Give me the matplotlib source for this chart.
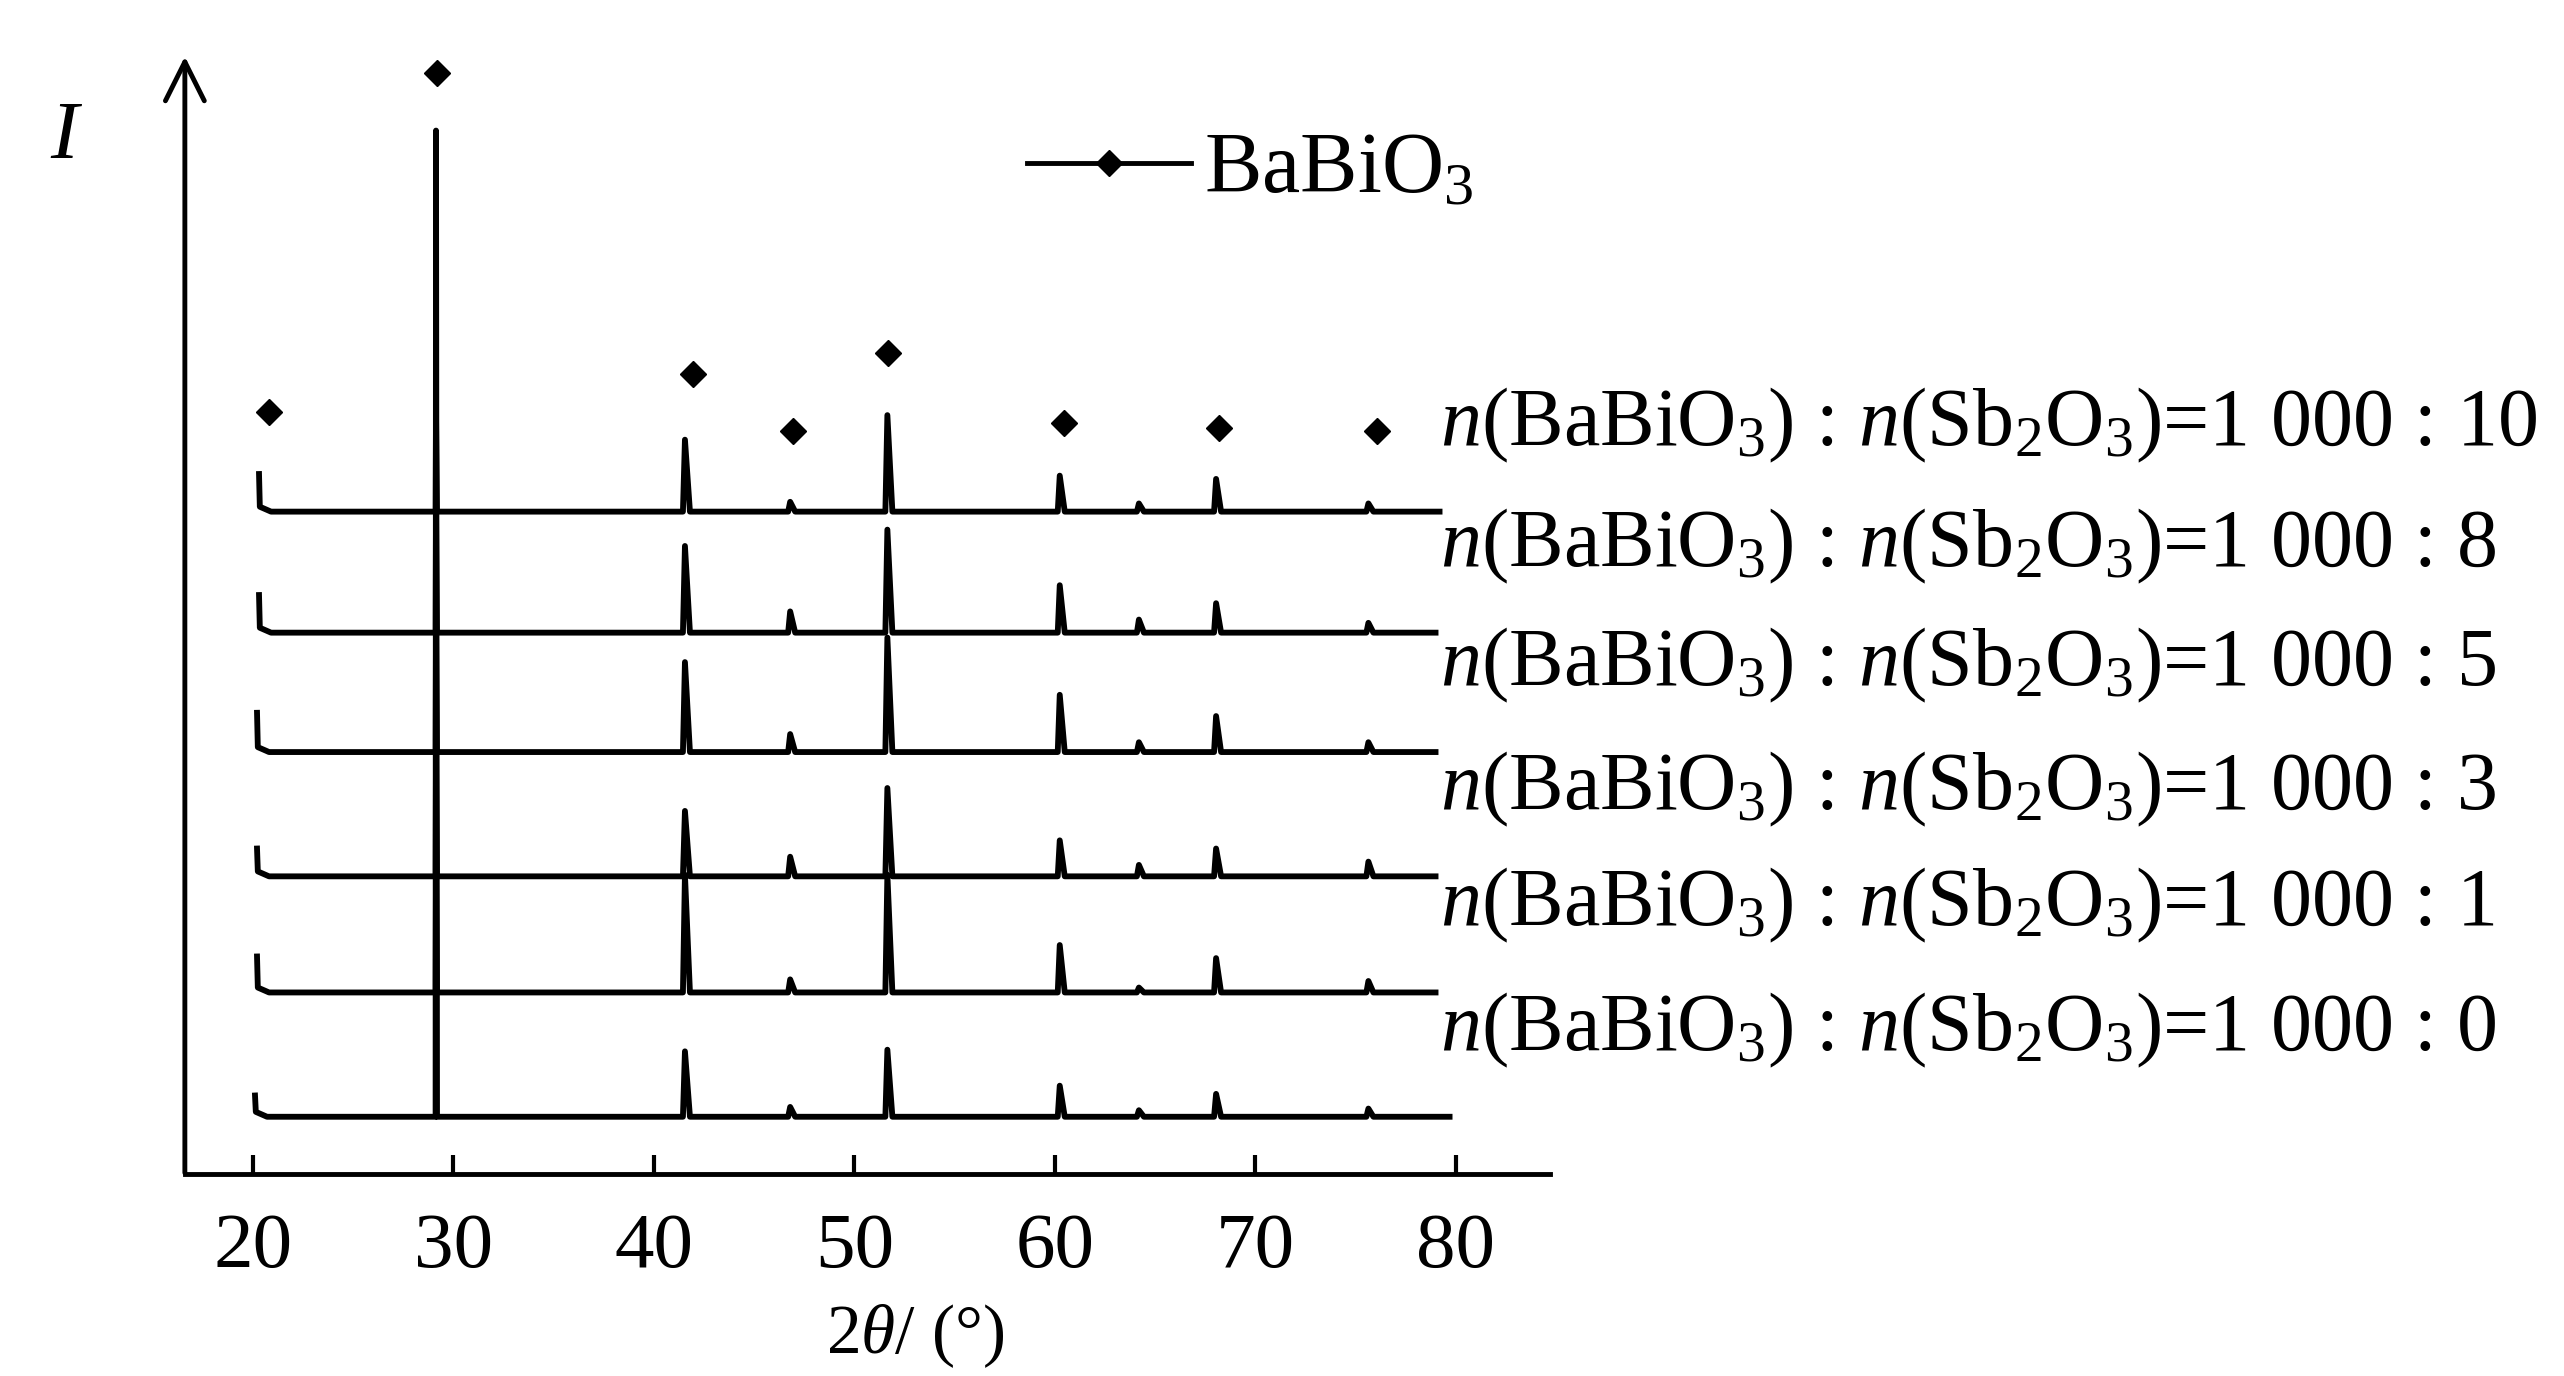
import matplotlib
matplotlib.use("Agg")
import matplotlib.pyplot as plt
from matplotlib.lines import Line2D

plt.rcParams['font.family'] = ['Liberation Serif', 'DejaVu Serif']
plt.rcParams['mathtext.fontset'] = 'custom'
plt.rcParams['mathtext.rm'] = 'Liberation Serif'
plt.rcParams['mathtext.it'] = 'Liberation Serif:italic'

# samples from bottom to top, n(Sb2O3) per 1 000 BaBiO3
sb_ratio = ['0', '1', '3', '5', '8', '10']
offsets = [0, 76, 147, 223, 296, 370]          # vertical shift of each pattern

# peak list (2theta, deg) and read heights per sample
peak_pos = [29.13, 41.55, 46.8, 51.65, 60.25, 64.2, 68.05, 75.65]
heights = [
    [603, 40, 6, 41, 19, 4, 14, 5],    # 1000:0
    [75, 72, 8, 72, 29, 3, 21, 7],     # 1000:1
    [76, 40, 12, 54, 22, 7, 17, 9],    # 1000:3
    [75, 55, 11, 70, 35, 6, 22, 6],    # 1000:5
    [75, 53, 13, 63, 29, 8, 18, 6],    # 1000:8
    [60, 44, 6, 59, 22, 5, 20, 5],     # 1000:10
]
start_h = [13, 22, 17, 24, 23, 23]
scan_start = [20.1, 20.2, 20.2, 20.2, 20.3, 20.3]
scan_end = [79.7, 79.0, 79.0, 79.0, 79.0, 79.2]

# BaBiO3 reflections marked above the top pattern
mark_x = [20.8, 29.17, 41.95, 46.95, 51.68, 60.45, 68.2, 76.1]
mark_y = [431, 638, 454, 419, 467, 424, 421, 419]

xticks = [20, 30, 40, 50, 60, 70, 80]

fig = plt.figure(figsize=(25.64, 13.76), dpi=100)
ax = fig.add_axes([0.0721, 0.1468, 0.5325, 0.8118])
ax.set_xlim(16.6, 84.72)
ax.set_ylim(-35, 648)

lw = 4.2
for i, r in enumerate(sb_ratio):
    off = offsets[i]
    xs = [scan_start[i], scan_start[i] + 0.04, scan_start[i] + 0.6]
    ys = [start_h[i], 3, 0]
    for j, (p, h) in enumerate(zip(peak_pos, heights[i])):
        left, right = (0.02, 0.05) if j == 0 else (0.1, 0.25)
        xs += [p - left, p, p + right]
        ys += [0, h, 0]
    xs.append(scan_end[i])
    ys.append(0)
    ax.plot(xs, [y + off for y in ys], color='k', lw=lw,
            solid_joinstyle='round', clip_on=False)
    ax.text(79.2, off + 53,
            r'$n$(BaBiO$_3$) : $n$(Sb$_2$O$_3$)=1 000 : ' + r,
            fontsize=59, va='center', ha='left', clip_on=False)

ax.plot(mark_x, mark_y, linestyle='none', marker='D', color='k', ms=13,
        clip_on=False)

handle = Line2D([], [], color='k', lw=3.5, marker='D', ms=13)
ax.legend([handle], ['BaBiO$_3$'], loc='center left',
          bbox_to_anchor=(0.617, 0.897), frameon=False, fontsize=62,
          handlelength=1.9, handletextpad=0.15, borderpad=0,
          borderaxespad=0)

# axes: bottom line with inward ticks, left arrow
for s in ['top', 'right', 'left']:
    ax.spines[s].set_visible(False)
ax.spines['bottom'].set_linewidth(3.5)
ax.set_xticks(xticks)
ax.set_yticks([])
ax.tick_params(axis='x', direction='in', length=14, width=3, pad=28,
               labelsize=57)
ax.annotate('', xy=(16.6, 650), xytext=(16.6, -36),
            arrowprops=dict(arrowstyle='->', lw=3.5, color='k',
                            mutation_scale=70),
            annotation_clip=False)

ax.text(10.6, 598, 'I', fontsize=60, style='italic', ha='center',
        va='center', clip_on=False)
ax.set_xlabel(r'2$\theta$/ (°)', fontsize=50)
ax.xaxis.set_label_coords(0.535, -0.115)

fig.savefig('out.png', dpi=100, facecolor='white')
